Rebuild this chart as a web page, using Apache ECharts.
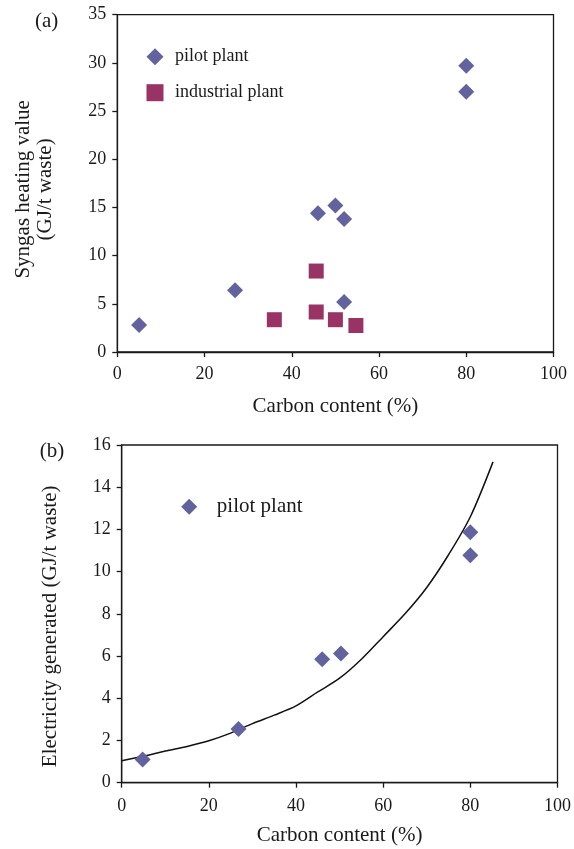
<!DOCTYPE html>
<html>
<head>
<meta charset="utf-8">
<script src="https://cdn.jsdelivr.net/npm/echarts@6/dist/echarts.min.js"></script>
<style>
  html, body { margin: 0; padding: 0; background: #fff; }
  #chart { width: 574px; height: 849px; }
</style>
</head>
<body>
<div id="chart"></div>
<script>
// (a) syngas heating value vs carbon content
const pilotCarbonA = [5, 27, 46, 50, 52, 52, 80, 80];
const pilotSyngas = [2.8, 6.4, 14.4, 15.2, 13.8, 5.2, 29.7, 27.0];
const industrialCarbon = [36, 45.6, 45.6, 50, 54.7];
const industrialSyngas = [3.35, 8.4, 4.15, 3.35, 2.75];

// (b) electricity generated vs carbon content
const pilotCarbonB = [4.8, 26.8, 46, 50.3, 80, 80];
const pilotElectricity = [1.1, 2.55, 5.85, 6.12, 11.87, 10.78];
// fitted curve
const curveCarbon = [0, 5, 10, 15, 20, 25, 30, 35, 40, 45, 50, 55, 60, 65, 70, 75, 80, 85.2];
const curveElectricity = [1.04, 1.25, 1.5, 1.72, 1.99, 2.35, 2.8, 3.2, 3.64, 4.3, 4.95, 5.85, 6.92, 8.0, 9.25, 10.8, 12.6, 15.2];

const zip = (xs, ys) => xs.map((x, i) => [x, ys[i]]);

const FONT = '"Liberation Serif", "DejaVu Serif", serif';
const INK = '#1a1a1a';
const PILOT = '#62629e';
const INDUSTRIAL = '#993366';

function xAxisFor(gridIndex, gap, labelMargin) {
  return {
    type: 'value', gridIndex: gridIndex,
    min: 0, max: 100, interval: 20,
    name: 'Carbon content (%)', nameLocation: 'middle', nameGap: gap,
    nameTextStyle: { fontFamily: FONT, fontSize: 21, color: INK },
    axisLine: { show: true, onZero: false, lineStyle: { color: INK, width: 1.3 } },
    axisTick: { show: true, inside: false, length: 5, lineStyle: { color: INK, width: 1.3 } },
    axisLabel: { fontFamily: FONT, fontSize: 18, color: INK, margin: labelMargin },
    splitLine: { show: false }
  };
}

function yAxisFor(gridIndex, max, interval, name, gap, pad) {
  return {
    type: 'value', gridIndex: gridIndex,
    min: 0, max: max, interval: interval,
    name: name, nameLocation: 'middle', nameGap: gap,
    nameTextStyle: { fontFamily: FONT, fontSize: 21, color: INK, lineHeight: 22, padding: pad },
    axisLine: { show: true, onZero: false, lineStyle: { color: INK, width: 1.3 } },
    axisTick: { show: true, inside: false, length: 5, lineStyle: { color: INK, width: 1.3 } },
    axisLabel: { fontFamily: FONT, fontSize: 18, color: INK, margin: 11 },
    splitLine: { show: false }
  };
}

const chart = echarts.init(document.getElementById('chart'));
const option = {
  animation: false,
  backgroundColor: '#fff',
  grid: [
    { left: 117.3, right: 20.5, top: 14.7, height: 337.3, show: true,
      borderColor: INK, borderWidth: 1.3, backgroundColor: 'transparent' },
    { left: 121.7, right: 15.6, top: 445, height: 337.7, show: true,
      borderColor: INK, borderWidth: 1.3, backgroundColor: 'transparent' }
  ],
  xAxis: [
    xAxisFor(0, 44, 13),
    xAxisFor(1, 42, 15)
  ],
  yAxis: [
    yAxisFor(0, 35, 5, 'Syngas heating value\n(GJ/t waste)', 61, [0, 12, 0, 0]),
    yAxisFor(1, 16, 2, 'Electricity generated (GJ/t waste)', 60, [0, 25, 0, 0])
  ],
  legend: [
    {
      orient: 'vertical', left: 146.5, top: 46.7, padding: 0,
      itemWidth: 17, itemHeight: 17, itemGap: 16,
      selectedMode: false,
      textStyle: { fontFamily: FONT, fontSize: 18, color: INK, lineHeight: 20, padding: [0, 0, 0, 6.5] },
      data: [
        { name: 'pilot plant', icon: 'diamond' },
        { name: 'industrial plant', icon: 'rect' }
      ]
    },
    {
      orient: 'vertical', left: 181.2, top: 495.7, padding: 0,
      itemWidth: 16, itemHeight: 16,
      selectedMode: false,
      textStyle: { fontFamily: FONT, fontSize: 21, color: INK, lineHeight: 22, padding: [0, 0, 0, 14.6] },
      data: [{ name: 'pilot plant', icon: 'diamond' }]
    }
  ],
  graphic: [
    { type: 'text', x: 46.7, y: 21.7,
      style: { text: '(a)', font: '21px ' + FONT, fill: INK, textAlign: 'center', textVerticalAlign: 'middle' } },
    { type: 'text', x: 52, y: 451.7,
      style: { text: '(b)', font: '21px ' + FONT, fill: INK, textAlign: 'center', textVerticalAlign: 'middle' } }
  ],
  series: [
    {
      name: 'pilot plant', type: 'scatter', xAxisIndex: 0, yAxisIndex: 0,
      symbol: 'diamond', symbolSize: 16,
      itemStyle: { color: PILOT, opacity: 1 },
      data: zip(pilotCarbonA, pilotSyngas)
    },
    {
      name: 'industrial plant', type: 'scatter', xAxisIndex: 0, yAxisIndex: 0,
      symbol: 'rect', symbolSize: 15,
      itemStyle: { color: INDUSTRIAL, opacity: 1 },
      data: zip(industrialCarbon, industrialSyngas)
    },
    {
      name: 'fit', type: 'line', xAxisIndex: 1, yAxisIndex: 1,
      showSymbol: false, symbol: 'none', smooth: 0.3,
      lineStyle: { color: '#111', width: 1.5 },
      data: zip(curveCarbon, curveElectricity),
      z: 1
    },
    {
      name: 'pilot plant', type: 'scatter', xAxisIndex: 1, yAxisIndex: 1,
      symbol: 'diamond', symbolSize: 16,
      itemStyle: { color: PILOT, opacity: 1 },
      data: zip(pilotCarbonB, pilotElectricity),
      z: 3
    }
  ]
};
chart.setOption(option);
window.addEventListener('resize', () => chart.resize());
</script>
</body>
</html>
